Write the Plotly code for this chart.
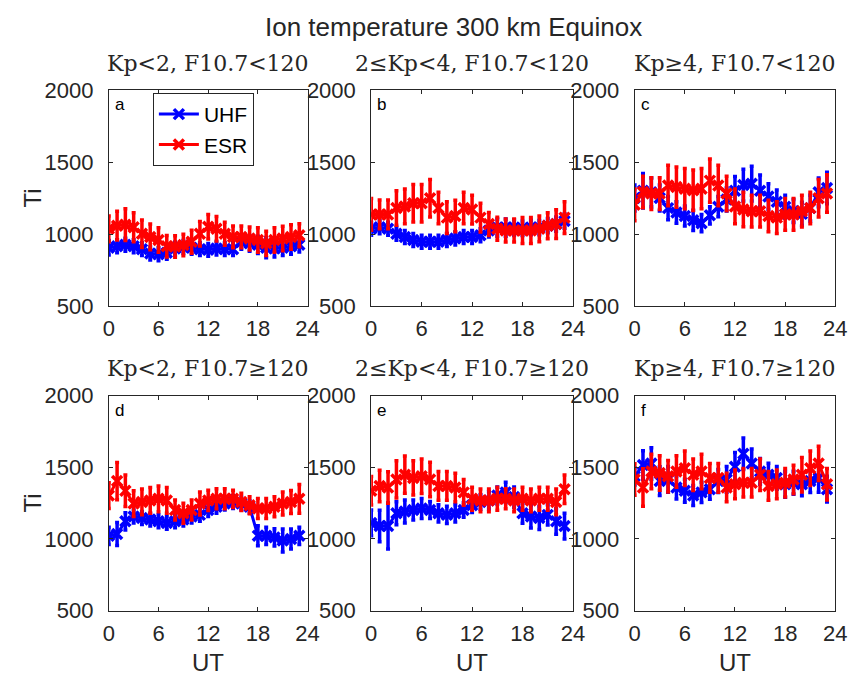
import plotly.graph_objects as go

hours = list(range(24))

# Ion temperature (K) per UT hour, UHF and ESR radars, six Kp / F10.7 bins
uhf_a = [905, 915, 925, 915, 895, 865, 860, 870, 900, 910, 905, 895,
         890, 900, 895, 895, 945, 935, 925, 905, 900, 905, 915, 925]
esr_a = [1036, 1058, 1065, 1047, 1002, 980, 958, 915, 913, 924, 946, 1002,
         1050, 1036, 1002, 980, 980, 969, 958, 935, 958, 969, 980, 991]
uhf_b = [1036, 1047, 1036, 1002, 980, 958, 947, 947, 947, 958, 969, 980,
         980, 991, 1025, 1045, 1045, 1045, 1040, 1045, 1045, 1058, 1069, 1090]
esr_b = [1136, 1136, 1136, 1181, 1192, 1214, 1214, 1248, 1181, 1114, 1125, 1181,
         1170, 1114, 1069, 1036, 1025, 1025, 1025, 1025, 1036, 1058, 1069, 1114]
uhf_c = [1250, 1300, 1290, 1250, 1180, 1150, 1125, 1095, 1075, 1130, 1190, 1240,
         1300, 1340, 1350, 1300, 1260, 1225, 1190, 1160, 1140, 1180, 1290, 1320]
esr_c = [1203, 1292, 1281, 1281, 1337, 1326, 1315, 1304, 1315, 1371, 1337, 1281,
         1192, 1170, 1159, 1159, 1125, 1114, 1136, 1136, 1159, 1181, 1248, 1281]
uhf_d = [1022, 1034, 1123, 1157, 1146, 1135, 1123, 1112, 1123, 1135, 1157, 1168,
         1202, 1224, 1247, 1258, 1247, 1224, 1022, 1022, 1011, 989, 1000, 1022]
esr_d = [1303, 1404, 1336, 1247, 1258, 1269, 1280, 1269, 1202, 1179, 1202, 1247,
         1269, 1280, 1280, 1280, 1258, 1235, 1213, 1213, 1224, 1247, 1258, 1280]
uhf_e = [1112, 1090, 1090, 1179, 1191, 1202, 1213, 1202, 1179, 1168, 1179, 1202,
         1235, 1258, 1269, 1303, 1325, 1292, 1179, 1157, 1146, 1168, 1123, 1090]
esr_e = [1336, 1370, 1359, 1415, 1448, 1426, 1437, 1415, 1370, 1370, 1359, 1325,
         1280, 1269, 1269, 1280, 1280, 1269, 1280, 1269, 1280, 1280, 1258, 1347]
uhf_f = [1437, 1516, 1527, 1404, 1415, 1359, 1336, 1303, 1325, 1347, 1404, 1415,
         1504, 1594, 1527, 1471, 1448, 1426, 1381, 1392, 1381, 1404, 1426, 1347]
esr_f = [1415, 1359, 1471, 1460, 1437, 1471, 1493, 1448, 1471, 1426, 1426, 1359,
         1381, 1392, 1392, 1448, 1370, 1381, 1392, 1415, 1448, 1493, 1527, 1381]

# Error bar half-widths (K)
uhf_err_a = [50, 45, 45, 45, 45, 45, 45, 45, 45, 45, 45, 45,
             45, 45, 45, 45, 50, 55, 60, 70, 60, 55, 55, 50]
esr_err_a = [90, 100, 110, 100, 95, 90, 85, 75, 75, 75, 80, 85,
             85, 85, 80, 75, 75, 80, 85, 85, 85, 85, 85, 80]
uhf_err_b = [45, 45, 45, 45, 45, 45, 45, 45, 45, 45, 45, 45,
             45, 45, 45, 60, 60, 55, 50, 50, 50, 50, 50, 50]
esr_err_b = [110, 100, 100, 120, 120, 130, 130, 130, 110, 110, 110, 110,
             100, 100, 80, 80, 80, 80, 90, 90, 90, 90, 100, 110]
uhf_err_c = [90, 120, 100, 90, 80, 75, 70, 70, 60, 60, 70, 80,
             100, 110, 120, 110, 90, 80, 80, 80, 80, 90, 100, 110]
esr_err_c = [110, 110, 110, 110, 140, 140, 140, 140, 140, 150, 140, 120,
             120, 120, 110, 110, 110, 110, 110, 110, 110, 110, 130, 130]
uhf_err_d = [60, 80, 60, 45, 45, 45, 45, 45, 45, 45, 45, 45,
             45, 45, 45, 45, 45, 45, 70, 60, 60, 80, 70, 60]
esr_err_d = [90, 130, 110, 90, 90, 90, 90, 90, 70, 70, 70, 80,
             70, 70, 70, 60, 60, 60, 70, 70, 70, 80, 80, 100]
uhf_err_e = [90, 110, 160, 80, 80, 70, 70, 60, 60, 60, 60, 50,
             50, 50, 60, 60, 70, 70, 70, 80, 80, 70, 90, 90]
esr_err_e = [100, 110, 110, 130, 130, 120, 120, 120, 100, 100, 100, 90,
             80, 80, 80, 80, 70, 80, 80, 80, 80, 80, 90, 100]
uhf_err_f = [60, 100, 110, 100, 90, 80, 80, 70, 70, 70, 80, 90,
             100, 110, 100, 90, 80, 80, 90, 80, 80, 80, 100, 90]
esr_err_f = [110, 130, 120, 120, 110, 110, 120, 110, 120, 100, 100, 100,
             100, 100, 100, 110, 100, 100, 100, 100, 120, 120, 120, 110]

panels = [
    ("a", "Kp<2, F10.7<120", uhf_a, uhf_err_a, esr_a, esr_err_a),
    ("b", "2≤Kp<4, F10.7<120", uhf_b, uhf_err_b, esr_b, esr_err_b),
    ("c", "Kp≥4, F10.7<120", uhf_c, uhf_err_c, esr_c, esr_err_c),
    ("d", "Kp<2, F10.7≥120", uhf_d, uhf_err_d, esr_d, esr_err_d),
    ("e", "2≤Kp<4, F10.7≥120", uhf_e, uhf_err_e, esr_e, esr_err_e),
    ("f", "Kp≥4, F10.7≥120", uhf_f, uhf_err_f, esr_f, esr_err_f),
]

x_ticks = [0, 6, 12, 18, 24]
y_ticks = [500, 1000, 1500, 2000]

W, H = 864, 693
col_px = [(105, 308), (373, 579), (642, 847)]
row_px = [(81, 305), (398, 621)]

BLUE = "#0000ff"
RED = "#ff0000"
AX = "#262626"
sans = "Liberation Sans, Arial, Helvetica, sans-serif"
serif = "DejaVu Serif, Liberation Serif, serif"

fig = go.Figure()
layout = {}
annotations = []

for i, (letter, title, uhf, uhf_err, esr, esr_err) in enumerate(panels):
    r, c = divmod(i, 3)
    n = i + 1
    xa = "x" if n == 1 else f"x{n}"
    ya = "y" if n == 1 else f"y{n}"
    x0, x1 = col_px[c]
    y0, y1 = row_px[r]
    layout[f"xaxis{'' if n == 1 else n}"] = dict(
        domain=[x0 / W, x1 / W], anchor=ya, range=[0, 24],
        tickvals=x_ticks, ticks="inside", ticklen=4, tickcolor=AX,
        showline=True, linecolor=AX, linewidth=1, mirror="ticks",
        showgrid=False, zeroline=False, ticklabelstandoff=3,
        tickfont=dict(family=sans, size=22, color=AX),
    )
    layout[f"yaxis{'' if n == 1 else n}"] = dict(
        domain=[1 - y1 / H, 1 - y0 / H], anchor=xa, range=[500, 2000],
        tickvals=y_ticks, ticks="inside", ticklen=4, tickcolor=AX,
        showline=True, linecolor=AX, linewidth=1, mirror="ticks",
        showgrid=False, zeroline=False, ticklabelstandoff=10,
        tickfont=dict(family=sans, size=22, color=AX),
    )
    for name, vals, err, color in (("UHF", uhf, uhf_err, BLUE),
                                   ("ESR", esr, esr_err, RED)):
        fig.add_trace(go.Scatter(
            x=hours, y=vals, xaxis=xa, yaxis=ya, name=name,
            mode="lines+markers", showlegend=(n == 1),
            line=dict(color=color, width=3),
            marker=dict(symbol="x-thin", size=10, color=color,
                        line=dict(color=color, width=3.5)),
            error_y=dict(type="data", array=err, visible=True,
                         color=color, thickness=3.5, width=2),
        ))
    # panel title
    annotations.append(dict(
        x=(x0 + x1) / 2 / W, y=1 - (y0 - 28) / H, xref="paper", yref="paper",
        text=title, showarrow=False, xanchor="center", yanchor="middle",
        font=dict(family=serif, size=22, color=AX),
    ))
    # panel letter
    annotations.append(dict(
        x=0.02, y=0.985, xref=f"{xa} domain", yref=f"{ya} domain",
        text=letter, showarrow=False, xanchor="left", yanchor="top",
        font=dict(family=sans, size=17, color="black"),
    ))
    if c == 0:
        annotations.append(dict(
            x=27 / W, y=1 - (y0 + y1) / 2 / H, xref="paper", yref="paper",
            text="Ti", showarrow=False, textangle=-90,
            xanchor="center", yanchor="middle",
            font=dict(family=sans, size=24, color=AX),
        ))
    if r == 1:
        annotations.append(dict(
            x=(x0 + x1) / 2 / W, y=1 - 675 / H, xref="paper", yref="paper",
            text="UT", showarrow=False, xanchor="center", yanchor="middle",
            font=dict(family=sans, size=24, color=AX),
        ))

annotations.append(dict(
    x=457 / W, y=1 - 16 / H, xref="paper", yref="paper",
    text="Ion temperature 300 km Equinox", showarrow=False,
    xanchor="center", yanchor="middle",
    font=dict(family=sans, size=26, color=AX),
))

fig.update_layout(
    **layout,
    annotations=annotations,
    width=W, height=H,
    margin=dict(l=0, r=0, t=0, b=0),
    paper_bgcolor="white", plot_bgcolor="white",
    legend=dict(
        x=150 / W, y=1 - 84 / H, xanchor="left", yanchor="top",
        bgcolor="white", bordercolor=AX, borderwidth=1,
        font=dict(family=sans, size=21, color="black"),
        itemwidth=40, tracegroupgap=0,
    ),
)

fig.write_html("out.html")
